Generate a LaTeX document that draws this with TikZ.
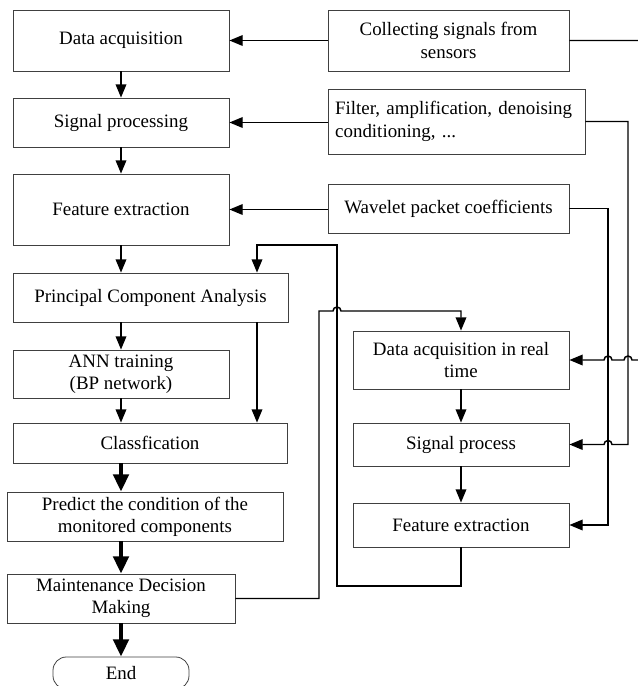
\documentclass[tikz,border=0pt]{standalone}
\usepackage{fontspec}
\setmainfont{Liberation Serif}
\usetikzlibrary{arrows.meta,calc}

\begin{document}
\begin{tikzpicture}[x=0.75pt,y=-0.75pt,->,>={Triangle[length=10pt,width=8pt]},
                    line width=1.1pt,font=\fontsize{14.2}{16.7}\selectfont]
\tikzstyle{box}=[draw=black!75,line width=0.6pt,fill=white,align=center,
                 minimum width=162pt,minimum height=36.75pt]
\tikzstyle{heavy}=[line width=3pt,>={Triangle[length=13pt,width=11.5pt]}]
\useasboundingbox (0,0) rectangle (638,686);
% offline chain
\node[box,minimum height=45.75pt] (acq) at (121,40.5) {Data acquisition};
\node[box] (sigproc) at (121,122.5) {Signal processing};
\node[box,minimum height=53.25pt] (featext) at (121,209.5) {Feature extraction};
\node[box,minimum width=206.25pt] (pca) at (150.5,297.5) {Principal Component Analysis};
\node[box,minimum height=36pt] (ann) at (121,374) {ANN training\\(BP network)};
\node[box,minimum width=205.5pt,minimum height=30pt] (classf) at (150,443) {Classfication};
\node[box,minimum width=207pt] (predict) at (145,516.5) {Predict the condition of the\\monitored components};
\node[box,minimum width=171pt] (maint) at (121,598.5) {Maintenance Decision\\Making};
\node[box,minimum width=102pt,minimum height=24pt,rounded corners=10pt] (end) at (121,673) {End};
% methods
\node[box,minimum width=180.75pt,minimum height=45.75pt] (collect) at (448.5,40.5) {Collecting signals from\\sensors};
\node[box,minimum width=192.75pt,minimum height=48.75pt,text width=182pt,align=left] (filter) at (456.5,121.5) {Filter, amplification, denoising\\conditioning, ...};
\node[box,minimum width=180.75pt] (wavelet) at (448.5,208.5) {Wavelet packet coefficients};
% real time chain
\node[box,minimum height=43.5pt] (rtacq) at (461,360) {Data acquisition in real\\time};
\node[box,minimum height=32.25pt] (rtsig) at (461,444.5) {Signal process};
\node[box,minimum height=33pt] (rtfeat) at (461,525) {Feature extraction};
% bus lines
\coordinate (wbus) at (608,0);
\coordinate (fbus) at (628,0);
\coordinate (cbus) at (646,0);
\coordinate (mbus) at (319,311);
\coordinate (lbus) at (337,586);
\coordinate (pcain) at (257,245);

\draw (acq) -- (sigproc);
\draw (sigproc) -- (featext);
\draw (featext.south) -- (featext.south |- pca.north);
\draw (ann.north |- pca.south) -- (ann.north);
\draw (ann.south) -- (ann.south |- classf.north);
\draw (pcain |- pca.south) -- (pcain |- classf.north);
\draw[heavy] (acq |- classf.south) -- (acq |- predict.north);
\draw[heavy] (acq |- predict.south) -- (maint.north);
\draw[heavy] (maint) -- (end);

\draw (collect) -- (acq);
\draw (filter.west |- sigproc) -- (sigproc.east);
\draw (wavelet.west |- featext) -- (featext.east);

\draw (collect.east) -- (cbus |- collect.east) -- (cbus |- rtacq.east)
  -- ($(fbus |- rtacq.east)+(3pt,0)$) arc[start angle=0,end angle=180,radius=3pt]
  -- ($(wbus |- rtacq.east)+(3pt,0)$) arc[start angle=0,end angle=180,radius=3pt]
  -- (rtacq.east);
\draw (filter.east) -- (fbus |- filter.east) -- (fbus |- rtsig.east)
  -- ($(wbus |- rtsig.east)+(3pt,0)$) arc[start angle=0,end angle=180,radius=3pt]
  -- (rtsig.east);
\draw (wavelet.east) -| (wbus |- rtfeat.east) -- (rtfeat.east);

\draw (rtacq) -- (rtsig);
\draw (rtsig) -- (rtfeat);
\draw (maint.east) -| (mbus)
  -- ($(lbus |- mbus)-(3pt,0)$) arc[start angle=180,end angle=0,radius=3pt]
  -- (rtacq.north |- mbus) -- (rtacq.north);
\draw (rtfeat.south) |- (lbus) |- (pcain) -- (pcain |- pca.north);
\end{tikzpicture}
\end{document}
